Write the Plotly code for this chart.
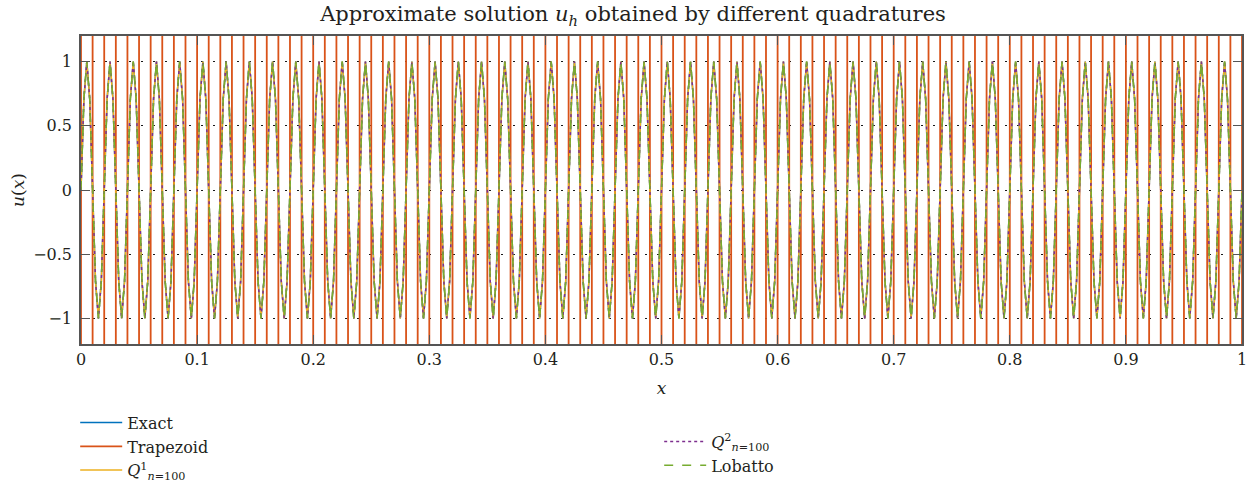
import plotly.graph_objects as go

# ---------------- data ----------------
# one period of the (coarsely sampled) exact solution, 8 samples per period
period_samples = [0.0, 0.71, 1.0, 0.71, 0.0, -0.71, -1.0, -0.71]
period_length = 0.02          # 50 periods over [0, 1]
n_periods = 50

# trapezoid: oscillates far off-scale between every mesh node (spacing 0.01)
trap_nodes = [k / 100 for k in range(101)]
trap_amplitude = 50.0         # off-scale value (clipped by the axis range)

x_ticks = [0, 0.1, 0.2, 0.3, 0.4, 0.5, 0.6, 0.7, 0.8, 0.9, 1]
x_ticklabels = ["0", "0.1", "0.2", "0.3", "0.4", "0.5", "0.6", "0.7", "0.8", "0.9", "1"]
y_ticks = [-1, -0.5, 0, 0.5, 1]
y_ticklabels = ["\u22121", "\u22120.5", "0", "0.5", "1"]

# ---------------- build series ----------------
step = period_length / len(period_samples)
xs, ys = [], []
for p in range(n_periods):
    for i, v in enumerate(period_samples):
        xs.append(p * period_length + i * step)
        ys.append(v)
xs.append(1.0)
ys.append(period_samples[0])

tx, ty = [], []
sign = -1
for xn in trap_nodes:
    tx += [xn, xn]
    ty += [sign * trap_amplitude, -sign * trap_amplitude]
    sign = -sign

FONT = "DejaVu Serif"
TXT = "#231f20"
fig = go.Figure()
fig.add_trace(go.Scatter(x=xs, y=ys, mode="lines", name="Exact",
                         line=dict(color="#0072BD", width=1.5), legend="legend"))
fig.add_trace(go.Scatter(x=tx, y=ty, mode="lines", name="Trapezoid",
                         line=dict(color="#D95319", width=1.8), legend="legend"))
fig.add_trace(go.Scatter(x=xs, y=ys, mode="lines",
                         name="<i>Q</i><sup>1</sup><sub><i>n</i>=100</sub>",
                         line=dict(color="#EDB120", width=1.5), legend="legend"))
fig.add_trace(go.Scatter(x=xs, y=ys, mode="lines",
                         name="<i>Q</i><sup>2</sup><sub><i>n</i>=100</sub>",
                         line=dict(color="#7E2F8E", width=1.5, dash="dot"), legend="legend2"))
fig.add_trace(go.Scatter(x=xs, y=ys, mode="lines", name="Lobatto",
                         line=dict(color="#77AC30", width=1.5, dash="dash"), legend="legend2"))

axis_common = dict(showline=True, linecolor="#555555", linewidth=1.5, mirror="ticks",
                   ticks="inside", ticklen=9, tickcolor="#555555", tickwidth=1.2,
                   zeroline=False, showgrid=True, griddash="2px,10px",
                   tickfont=dict(family=FONT, size=16, color=TXT))

fig.update_xaxes(range=[0, 1], tickvals=x_ticks, ticktext=x_ticklabels,
                 gridcolor="rgba(90,90,90,0.7)", gridwidth=1,
                 title=dict(text="<i>x</i>", font=dict(family=FONT, size=17, color=TXT),
                            standoff=14),
                 **axis_common)
fig.update_yaxes(range=[-1.2, 1.2], tickvals=y_ticks, ticktext=y_ticklabels,
                 gridcolor="rgba(0,0,0,0.9)", gridwidth=1.2, ticklabelstandoff=4,
                 title=dict(text="<i>u</i>(<i>x</i>)", font=dict(family=FONT, size=17, color=TXT),
                            standoff=4),
                 **axis_common)

fig.update_layout(
    width=1252, height=492,
    margin=dict(l=81, r=10, t=36, b=148, autoexpand=False),
    plot_bgcolor="white", paper_bgcolor="white",
    title=dict(text="Approximate solution <i>u</i><sub><i>h</i></sub> obtained by different quadratures",
               x=0.5056, xanchor="center", y=0.987, yanchor="top",
               font=dict(family=FONT, size=21, color=TXT)),
    showlegend=True,
    legend=dict(x=-0.005, y=0.1756, yref="container", xanchor="left", yanchor="top",
                font=dict(family=FONT, size=16, color=TXT),
                bgcolor="rgba(0,0,0,0)", itemwidth=42, tracegroupgap=0),
    legend2=dict(x=0.498, y=0.137, yref="container", xanchor="left", yanchor="top",
                 font=dict(family=FONT, size=16, color=TXT),
                 bgcolor="rgba(0,0,0,0)", itemwidth=42, tracegroupgap=0),
)

fig.write_html("out.html")
